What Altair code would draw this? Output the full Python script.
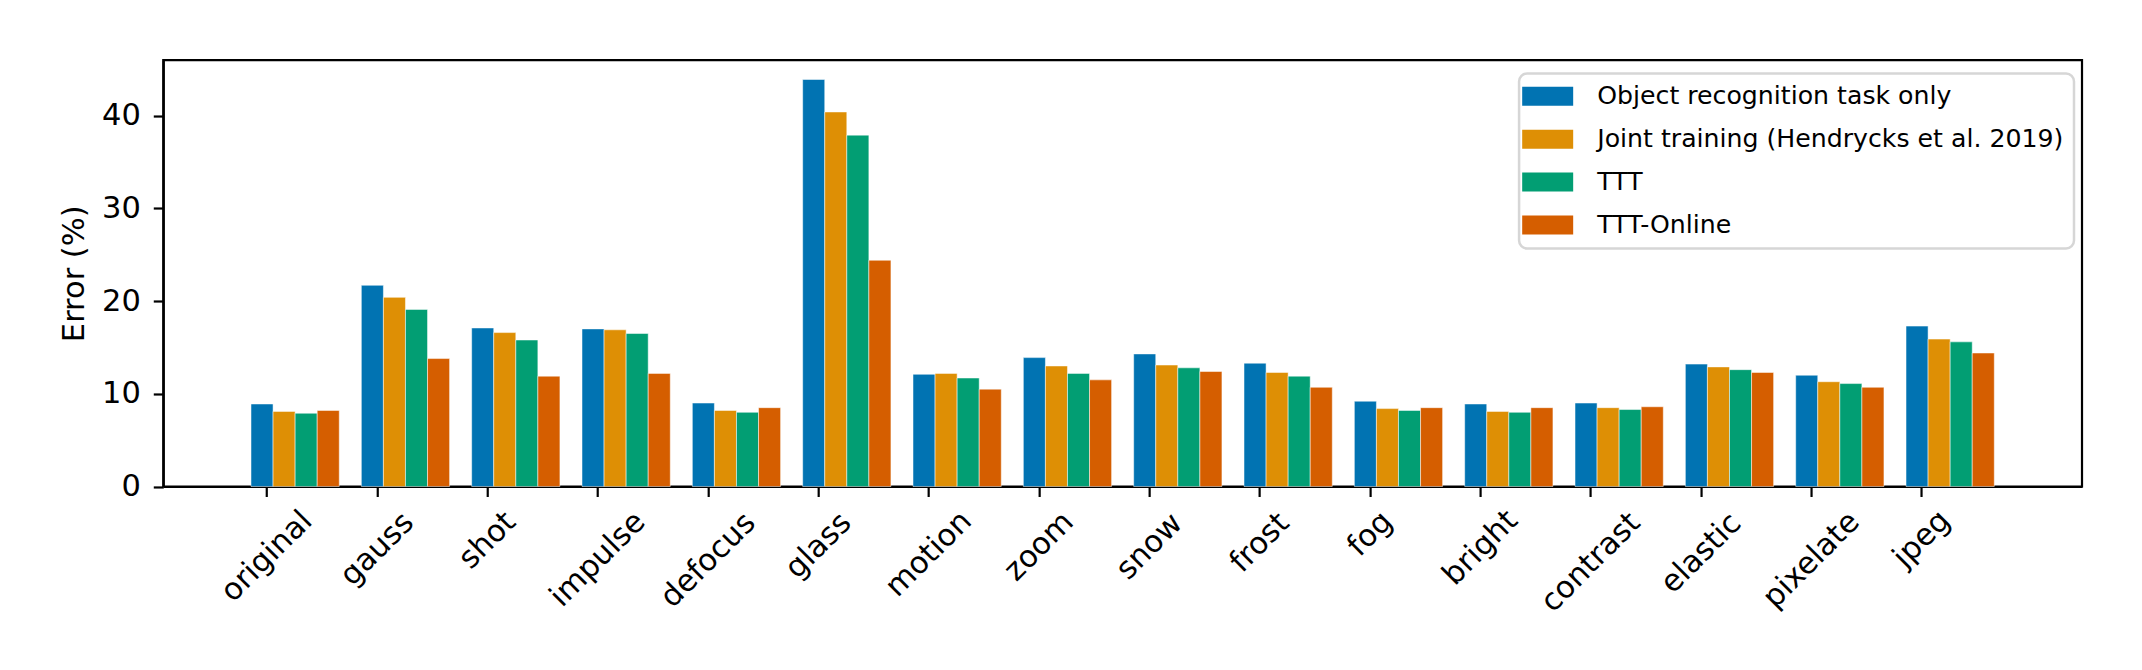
import altair as alt
import pandas as pd

categories = ["original", "gauss", "shot", "impulse", "defocus", "glass", "motion", "zoom",
              "snow", "frost", "fog", "bright", "contrast", "elastic", "pixelate", "jpeg"]
series_names = ["Object recognition task only", "Joint training (Hendrycks et al. 2019)",
                "TTT", "TTT-Online"]
object_only = [8.9, 21.7, 17.1, 17.0, 9.0, 43.9, 12.1, 13.9, 14.3, 13.3, 9.2, 8.9, 9.0, 13.2, 12.0, 17.3]
joint_training = [8.1, 20.4, 16.6, 16.9, 8.2, 40.4, 12.2, 13.0, 13.1, 12.3, 8.4, 8.1, 8.5, 12.9, 11.3, 15.9]
ttt = [7.9, 19.1, 15.8, 16.5, 8.0, 37.9, 11.7, 12.2, 12.8, 11.9, 8.2, 8.0, 8.3, 12.6, 11.1, 15.6]
ttt_online = [8.2, 13.8, 11.9, 12.2, 8.5, 24.4, 10.5, 11.5, 12.4, 10.7, 8.5, 8.5, 8.6, 12.3, 10.7, 14.4]
colors = ["#0173b2", "#de8f05", "#029e73", "#d55e00"]
y_ticks = [0, 10, 20, 30, 40]

rows = []
for name, vals in zip(series_names, [object_only, joint_training, ttt, ttt_online]):
    for c, v in zip(categories, vals):
        rows.append({"category": c, "series": name, "error": v})
df = pd.DataFrame(rows)
labels_df = pd.DataFrame({"category": categories})

FS = 30.5
LFS = 25.2
FONT = "DejaVu Sans"

x_scale = alt.Scale(domain=categories, paddingInner=0.2, paddingOuter=0.795)
y_scale = alt.Scale(domain=[0, 46], nice=False, zero=True)

bars = alt.Chart(df).mark_bar(stroke="white", strokeWidth=1, strokeOpacity=0.5).encode(
    x=alt.X("category:N", scale=x_scale, sort=categories,
            axis=alt.Axis(title=None, labels=False, bandPosition=0.181, ticks=True,
                          tickSize=10, tickWidth=2.2, tickColor="black",
                          domainColor="black", domainWidth=2.2, grid=False)),
    xOffset=alt.XOffset("series:N", sort=series_names,
                        scale=alt.Scale(domain=series_names, paddingInner=0, paddingOuter=0)),
    y=alt.Y("error:Q", scale=y_scale,
            axis=alt.Axis(title="Error (%)", values=y_ticks, grid=False,
                          labelFontSize=FS, labelFont=FONT, labelColor="black",
                          tickSize=10, tickWidth=2.2, tickColor="black", labelPadding=13,
                          domainColor="black", domainWidth=2.2,
                          titleFontSize=FS, titleFont=FONT, titleFontWeight="normal",
                          titleColor="black", titlePadding=12)),
    color=alt.Color("series:N", sort=series_names,
                    scale=alt.Scale(domain=series_names, range=colors),
                    legend=alt.Legend(orient="none", legendX=1356, legendY=13.5, title=None,
                                      symbolType="M-2.684,-1H2.684V1H-2.684Z", symbolSize=361,
                                      symbolOffset=6, symbolStrokeWidth=0, symbolOpacity=1,
                                      labelFontSize=LFS, labelFont=FONT, labelColor="black",
                                      labelOffset=37, labelLimit=800, padding=10, rowPadding=17,
                                      strokeColor="#d6d6d6", fillColor="white", cornerRadius=8)),
)

L = (f"{FS}*(0.61*length(datum.category)"
     f" - 0.32*length(replace(datum.category, regexp('[^ijl]','g'), ''))"
     f" - 0.2*length(replace(datum.category, regexp('[^tfr]','g'), ''))"
     f" + 0.36*length(replace(datum.category, regexp('[^mw]','g'), '')))")
D = f"(30 + 0.354*{L})"

labels = alt.Chart(labels_df).mark_text(
    angle=315, align="center", baseline="middle", fontSize=FS, font=FONT, color="black",
    dx=alt.ExprRef(f"-0.7071*{D}"), dy=alt.ExprRef(f"0.7071*{D}")
).encode(
    x=alt.X("category:N", sort=categories, bandPosition=0.181),
    y=alt.datum(0),
    text=alt.Text("category:N"),
)

chart = alt.layer(bars, labels).properties(
    width=1919, height=426.5,
    autosize=alt.AutoSizeParams(type="none"),
    padding={"left": 155.3, "top": 52, "right": 52, "bottom": 180},
).configure_view(
    stroke="black", strokeWidth=2.2
).configure_legend(
    strokeWidth=2.5
)

chart.save("out.html", embed_options={"renderer": "svg", "actions": False})
